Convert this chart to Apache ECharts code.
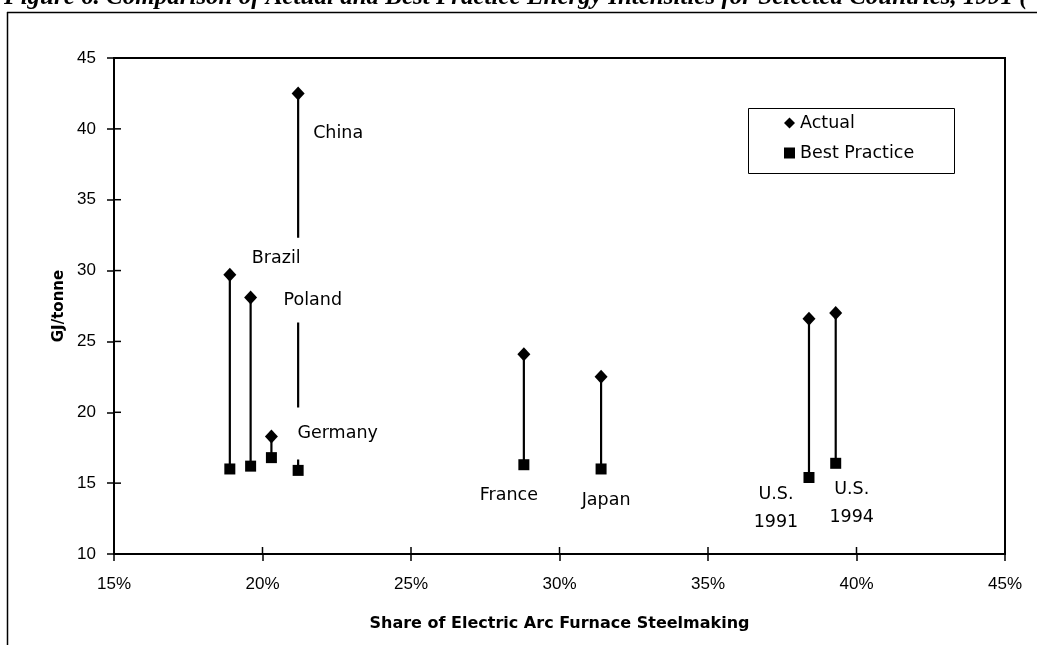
<!DOCTYPE html>
<html><head><meta charset="utf-8">
<script src="https://cdn.jsdelivr.net/npm/echarts@6/dist/echarts.min.js"></script>
<style>html,body{margin:0;padding:0;background:#fff}#c{width:1037px;height:656px}</style>
</head><body><div id="c"></div>
<script>
// ---- data ----
const countries    = ['Brazil', 'Poland', 'Germany', 'China', 'France', 'Japan', 'U.S.\n1991', 'U.S.\n1994'];
const eafShare     = [18.9, 19.6, 20.3, 21.2, 28.8, 31.4, 38.4, 39.3];   // % EAF steelmaking
const actual       = [29.7, 28.1, 18.3, 42.5, 24.1, 22.5, 26.6, 27.0];   // GJ/tonne
const bestPractice = [16.0, 16.2, 16.8, 15.9, 16.3, 16.0, 15.4, 16.4];   // GJ/tonne
const xTickLabels  = ['15%', '20%', '25%', '30%', '35%', '40%', '45%'];
const yTickLabels  = ['10', '15', '20', '25', '30', '35', '40', '45'];

// ---- label placement (style) ----
const labelCfg = {
  'Brazil':      {on: 'actual', align: 'left',   offset: [19, -16], bg: [7, 3]},
  'Poland':      {on: 'actual', align: 'left',   offset: [30, 3],   bg: [8, 3]},
  'Germany':     {on: 'actual', align: 'left',   offset: [23, -3],  bg: [12, 3]},
  'China':       {on: 'actual', align: 'left',   offset: [15, 40]},
  'France':      {on: 'best',   align: 'center', offset: [-15, 31]},
  'Japan':       {on: 'best',   align: 'center', offset: [5, 31]},
  'U.S.\n1991':  {on: 'best',   align: 'center', offset: [-33, 31]},
  'U.S.\n1994':  {on: 'best',   align: 'center', offset: [16, 40]}
};

const FONT = '"DejaVu Sans", sans-serif';
const TICKFONT = '"Liberation Sans", Arial, sans-serif';

function buildPoints(values, which) {
  return values.map((v, i) => {
    const name = countries[i];
    const cfg = labelCfg[name];
    const item = {name: name, value: [eafShare[i], v]};
    if (cfg && cfg.on === which) {
      item.label = {
        show: true, position: 'inside', formatter: name,
        align: cfg.align, verticalAlign: 'middle', offset: cfg.offset,
        color: '#000', fontFamily: FONT, fontSize: 17.5, lineHeight: 28,
        backgroundColor: cfg.bg ? '#fff' : 'transparent',
        padding: cfg.bg ? cfg.bg : 0
      };
    }
    return item;
  });
}

const xVals = xTickLabels.map(s => parseFloat(s));
const yVals = yTickLabels.map(s => parseFloat(s));
const xMin = xVals[0], xMax = xVals[xVals.length - 1];
const yMin = yVals[0], yMax = yVals[yVals.length - 1];
const xStep = xVals[1] - xMin, yStep = yVals[1] - yMin;

const GRID = {left: 114, right: 32, top: 58, bottom: 102};
const TICK_IN = 7;

const tickOut = {show: true, inside: false, length: 7, lineStyle: {color: '#000', width: 1.5}};

// inner halves of the crossing ticks, drawn from the axis scales
const innerTicks = xVals.map(v => [v, yMin, 0]).concat(yVals.map(v => [xMin, v, 1]));

const chart = echarts.init(document.getElementById('c'), null, {renderer: 'canvas'});
chart.setOption({
  backgroundColor: '#fff',
  animation: false,
  grid: Object.assign({show: true, borderColor: '#000', borderWidth: 2, backgroundColor: 'transparent', containLabel: false}, GRID),
  graphic: [
    {type: 'text', left: 4, top: -15, z: 10,
     style: {text: 'Figure 6. Comparison of Actual and Best Practice Energy Intensities for Selected Countries, 1991 (',
             font: 'italic bold 25px "Liberation Serif", "Times New Roman", serif', fill: '#000'}},
    {type: 'line', shape: {x1: 7, y1: 12.5, x2: 1037, y2: 12.5}, style: {stroke: '#000', lineWidth: 1.5}},
    {type: 'line', shape: {x1: 7.5, y1: 12, x2: 7.5, y2: 645}, style: {stroke: '#000', lineWidth: 1.5}},
    {type: 'rect', shape: {x: 748.5, y: 108.5, width: 206, height: 65}, style: {fill: '#fff', stroke: '#000', lineWidth: 1}, z: 5}
  ],
  legend: {
    orient: 'vertical', left: 784, top: 114, padding: 0, z: 10,
    itemWidth: 11, itemHeight: 11, itemGap: 12, itemTextGap: 9,
    data: [{name: 'Actual', icon: 'diamond'}, {name: 'Best Practice', icon: 'rect'}],
    textStyle: {color: '#000', fontFamily: FONT, fontSize: 17.5},
    selectedMode: false
  },
  xAxis: {type: 'value', min: xMin, max: xMax, interval: xStep, position: 'bottom',
     name: 'Share of Electric Arc Furnace Steelmaking', nameLocation: 'middle', nameGap: 62,
     nameTextStyle: {color: '#000', fontFamily: FONT, fontSize: 16, fontWeight: 'bold'},
     axisLine: {show: true, onZero: false, lineStyle: {color: '#000', width: 2}},
     axisTick: tickOut,
     axisLabel: {color: '#000', fontFamily: TICKFONT, fontSize: 17, margin: 22,
                 formatter: v => xTickLabels[Math.round((v - xMin) / xStep)]},
     splitLine: {show: false}},
  yAxis: {type: 'value', min: yMin, max: yMax, interval: yStep, position: 'left',
     name: 'GJ/tonne', nameLocation: 'middle', nameGap: 38, nameRotate: 90,
     nameTextStyle: {color: '#000', fontFamily: FONT, fontSize: 15, fontWeight: 'bold'},
     axisLine: {show: true, onZero: false, lineStyle: {color: '#000', width: 2}},
     axisTick: tickOut,
     axisLabel: {color: '#000', fontFamily: TICKFONT, fontSize: 17, margin: 18,
                 formatter: v => yTickLabels[Math.round((v - yMin) / yStep)]},
     splitLine: {show: false}},
  series: [
    {type: 'custom', z: 3, silent: true, data: innerTicks,
     renderItem: (params, api) => {
       const p = api.coord([api.value(0), api.value(1)]);
       const horiz = api.value(2) === 1;
       return {type: 'line',
               shape: horiz ? {x1: p[0], y1: p[1], x2: p[0] + TICK_IN, y2: p[1]}
                            : {x1: p[0], y1: p[1], x2: p[0], y2: p[1] - TICK_IN},
               style: {stroke: '#000', lineWidth: 1.5}};
     }},
    {type: 'custom', z: 2, silent: true,
     data: eafShare.map((x, i) => [x, actual[i], bestPractice[i]]),
     renderItem: (params, api) => {
       const a = api.coord([api.value(0), api.value(1)]);
       const b = api.coord([api.value(0), api.value(2)]);
       return {type: 'line', shape: {x1: a[0], y1: a[1], x2: b[0], y2: b[1]},
               style: {stroke: '#000', lineWidth: 2.2}};
     }},
    {name: 'Actual', type: 'scatter', z: 5, symbol: 'diamond', symbolSize: [13, 14],
     itemStyle: {color: '#000', opacity: 1},
     data: buildPoints(actual, 'actual')},
    {name: 'Best Practice', type: 'scatter', z: 5, symbol: 'rect', symbolSize: 11,
     itemStyle: {color: '#000', opacity: 1},
     data: buildPoints(bestPractice, 'best')}
  ]
});
</script>
</body></html>
